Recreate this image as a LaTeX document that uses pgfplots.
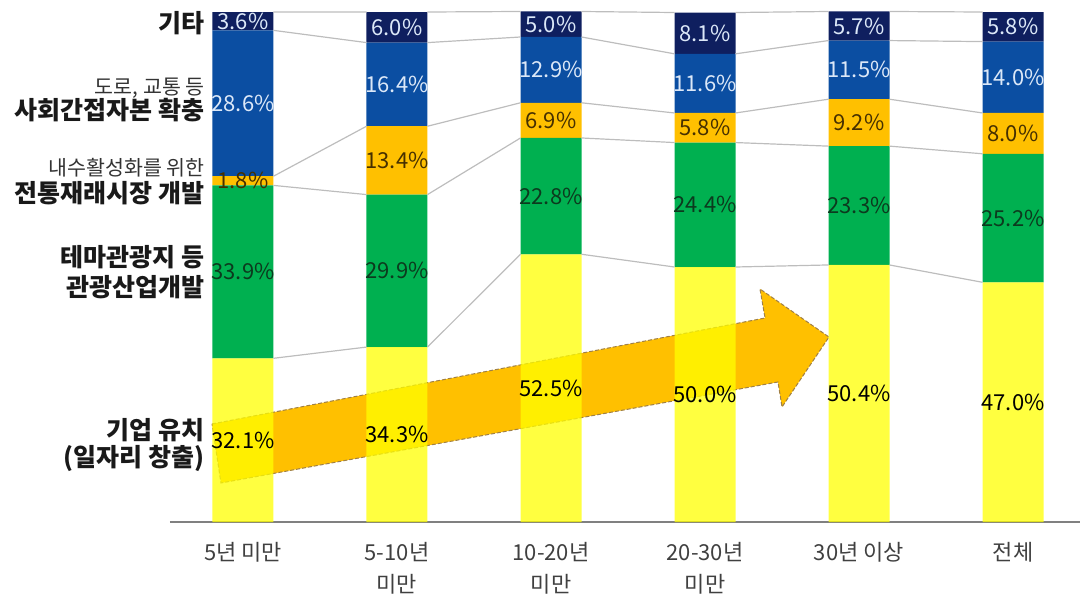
\documentclass[border=0pt]{standalone}
\usepackage{fontspec}
\setmainfont{Noto Sans CJK KR}
\usepackage{pgfplots}
\pgfplotsset{compat=1.18}
\usepackage{pgfplotstable}

\definecolor{cNavy}{HTML}{0F1F5F}
\definecolor{cBlue}{HTML}{0B4EA2}
\definecolor{cOrange}{HTML}{FFC000}
\definecolor{cGreen}{HTML}{00B050}
\definecolor{cYellow}{HTML}{FFFF00}
\definecolor{cLink}{HTML}{BDBDBD}
\definecolor{cTick}{HTML}{404040}

% segment values per category (0..5)
\pgfplotstableread{
c v
0 32.1
1 34.3
2 52.5
3 50.0
4 50.4
5 47.0
}\yel
\pgfplotstableread{
c v
0 33.9
1 29.9
2 22.8
3 24.4
4 23.3
5 25.2
}\grn
\pgfplotstableread{
c v
0 1.8
1 13.4
2 6.9
3 5.8
4 9.2
5 8.0
}\org
\pgfplotstableread{
c v
0 28.6
1 16.4
2 12.9
3 11.6
4 11.5
5 14.0
}\blu
\pgfplotstableread{
c v
0 3.6
1 6.0
2 5.0
3 8.1
4 5.7
5 5.8
}\nav
% cumulative boundaries, bar edge to next bar edge
\pgfplotstableread{
x     b1   b2   b3   b4   b5
0.198 32.1 66.0 67.8 96.4 100.0
0.802 34.3 64.2 77.6 94.0 100.0
nan   nan  nan  nan  nan  nan
1.198 34.3 64.2 77.6 94.0 100.0
1.802 52.5 75.3 82.2 95.1 100.1
nan   nan  nan  nan  nan  nan
2.198 52.5 75.3 82.2 95.1 100.1
2.802 50.0 74.4 80.2 91.8 99.9
nan   nan  nan  nan  nan  nan
3.198 50.0 74.4 80.2 91.8 99.9
3.802 50.4 73.7 82.9 94.4 100.1
nan   nan  nan  nan  nan  nan
4.198 50.4 73.7 82.9 94.4 100.1
4.802 47.0 72.2 80.2 94.2 100.0
}\links

\begin{document}
\begin{tikzpicture}
\begin{axis}[
    set layers,
    scale only axis, width=455pt, height=255pt,
    xmin=-0.474, xmax=5.435, ymin=0, ymax=100,
    clip=false,
    ybar stacked, bar width=30.5pt,
    axis x line*=bottom, axis y line=none,
    x axis line style={draw=gray, line width=1pt, -},
    xtick={0,...,5}, major tick length=0pt,
    xticklabels={5년 미만, {5-10년\\미만}, {10-20년\\미만}, {20-30년\\미만}, 30년 이상, 전체},
    xticklabel style={align=center, text=cTick, inner sep=0pt, yshift=-10pt,
        font=\fontsize{11}{16}\selectfont},
    unbounded coords=jump,
    segs/.style={
        point meta=explicit,
        nodes near coords={\pgfmathprintnumber[fixed,fixed zerofill,precision=1,assume math mode=true]{\pgfplotspointmeta}\%},
        nodes near coords style={anchor=center, inner sep=0pt,
            font=\fontsize{11}{12}\selectfont},
        draw=none,
    },
    link/.style={sharp plot, stack plots=false, cLink, line width=0.6pt, no markers},
]
% connector lines
\addplot[link] table[x=x, y=b1] {\links};
\addplot[link] table[x=x, y=b2] {\links};
\addplot[link] table[x=x, y=b3] {\links};
\addplot[link] table[x=x, y=b4] {\links};
\addplot[link] table[x=x, y=b5] {\links};

% arrow, kept below the translucent yellow bars
\addplot[on layer=axis background, sharp plot, stack plots=false, no markers, fill=cOrange,
    draw={rgb,255:red,160;green,128;blue,70}, line width=0.5pt, dash pattern=on 2pt off 1pt]
    coordinates {(-0.201,19.22) (3.390,40.0) (3.357,45.69) (3.805,36.27)
                 (3.500,22.55) (3.474,27.45) (-0.143,7.65)} -- cycle;

\addplot[segs, fill=cYellow, fill opacity=0.75,
    nodes near coords style={text=black, text opacity=1}] table[x=c, y=v, meta=v] {\yel};
\addplot[segs, fill=cGreen,
    nodes near coords style={text={rgb,255:red,12;green,58;blue,30}}] table[x=c, y=v, meta=v] {\grn};
\addplot[segs, fill=cOrange,
    nodes near coords style={text={rgb,255:red,70;green,48;blue,0}}] table[x=c, y=v, meta=v] {\org};
\addplot[segs, fill=cBlue,
    nodes near coords style={text={rgb,255:red,220;green,232;blue,248}}] table[x=c, y=v, meta=v] {\blu};
\addplot[segs, fill=cNavy,
    nodes near coords style={text={rgb,255:red,220;green,232;blue,248}}] table[x=c, y=v, meta=v] {\nav};

% category labels on the left
\tikzset{big/.style={anchor=east, inner sep=0pt, font=\bfseries\fontsize{12.5}{14}\selectfont, text=black!90},
         small/.style={anchor=east, inner sep=0pt, font=\fontsize{10.3}{12}\selectfont, text=black!80}}
\node[big]   at (axis cs:-0.247,97.8) {기타};
\node[small] at (axis cs:-0.247,85.1) {도로, 교통 등};
\node[big]   at (axis cs:-0.247,80.8) {사회간접자본 확충};
\node[small] at (axis cs:-0.247,69.4) {내수활성화를 위한};
\node[big]   at (axis cs:-0.247,64.5) {전통재래시장 개발};
\node[big]   at (axis cs:-0.247,52.0) {테마관광지 등};
\node[big]   at (axis cs:-0.247,46.1) {관광산업개발};
\node[big]   at (axis cs:-0.247,18.0) {기업 유치};
\node[big]   at (axis cs:-0.247,12.5) {(일자리 창출)};
\end{axis}
\pgfresetboundingbox
\path[use as bounding box] ([xshift=-85pt,yshift=-37pt]current axis.south west) rectangle ([yshift=6pt]current axis.north east);
\end{tikzpicture}
\end{document}
